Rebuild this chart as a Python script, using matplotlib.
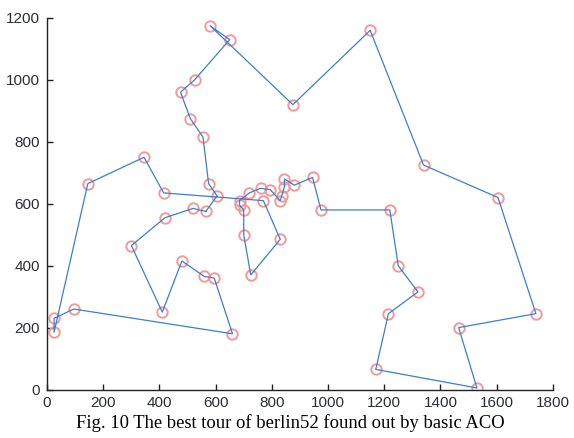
import numpy as np
import matplotlib.pyplot as plt

# координаты городов berlin52 (номера 1..52)
city_x = [565, 25, 345, 945, 845, 880, 25, 525, 580, 650,
          1605, 1220, 1465, 1530, 845, 725, 145, 415, 510, 560,
          300, 520, 480, 835, 975, 1215, 1320, 1250, 660, 410,
          420, 575, 1150, 700, 685, 685, 770, 795, 720, 760,
          475, 95, 875, 700, 555, 830, 1170, 830, 605, 595,
          1340, 1740]
city_y = [575, 185, 750, 685, 655, 660, 230, 1000, 1175, 1130,
          620, 580, 200, 5, 680, 370, 665, 635, 875, 365,
          465, 585, 415, 625, 580, 245, 315, 400, 180, 250,
          555, 665, 1160, 580, 595, 610, 610, 645, 635, 650,
          960, 260, 920, 500, 815, 485, 65, 610, 625, 360,
          725, 245]

# лучший маршрут (basic ACO), по картинке
best_tour = [1, 22, 31, 21, 30, 23, 20, 50, 29, 42, 7, 2, 17, 3, 18, 37,
             46, 16, 44, 34, 35, 36, 39, 40, 38, 48, 24, 5, 15, 6, 4, 25,
             12, 28, 27, 26, 47, 14, 13, 52, 11, 51, 33, 43, 9, 10, 8, 41,
             19, 45, 32, 49]

caption = 'Fig. 10 The best tour of berlin52 found out by basic ACO'

x = np.array(city_x)
y = np.array(city_y)
order = np.array(best_tour + [best_tour[0]]) - 1

fig = plt.figure(figsize=(5.74, 4.38), dpi=100)
ax = fig.add_axes([0.082, 0.1107, 0.881, 0.8483])

# города - красные кружки
ax.plot(x, y, 'o', markersize=7.5, markerfacecolor='none',
        markeredgecolor='#f29a9a', markeredgewidth=1.4, zorder=2)
# маршрут
ax.plot(x[order], y[order], color='#3a7fd5', linewidth=0.9, zorder=3)

ax.set_xlim(0, 1800)
ax.set_ylim(0, 1200)
ax.set_xticks(np.arange(0, 1801, 200))
ax.set_yticks(np.arange(0, 1201, 200))

ax.spines['top'].set_visible(False)
ax.spines['right'].set_visible(False)
for s in ['left', 'bottom']:
    ax.spines[s].set_color('#222222')
    ax.spines[s].set_linewidth(1.0)
ax.tick_params(direction='in', length=4, width=1, colors='#222222',
               labelcolor='#2b2f33', labelsize=11, pad=5)
for lab in ax.get_xticklabels() + ax.get_yticklabels():
    lab.set_family('Liberation Sans')

fig.text(0.505, 0.034, caption, ha='center', va='center',
         fontsize=13.4, family='Liberation Serif', color='black')

plt.savefig('out.png', dpi=100)
